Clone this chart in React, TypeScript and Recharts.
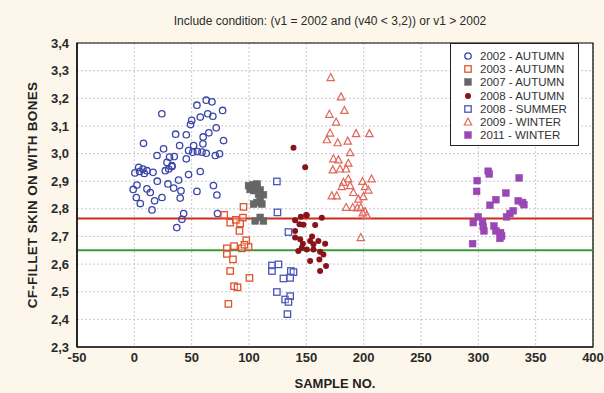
import React from 'react';
import {
  ScatterChart, Scatter, XAxis, YAxis, CartesianGrid, ReferenceLine, ReferenceArea, Label,
} from 'recharts';

const titleText = 'Include condition: (v1 = 2002 and (v40 < 3,2)) or v1 > 2002';
const xTicks = [-50, 0, 50, 100, 150, 200, 250, 300, 350, 400];
const yTicks = [2.3, 2.4, 2.5, 2.6, 2.7, 2.8, 2.9, 3.0, 3.1, 3.2, 3.3, 3.4];
const redLineValue = 2.765;
const greenLineValue = 2.65;

const autumn2002: [number, number][] = [
  [24, 3.144], [54.6, 3.175], [62.7, 3.193], [67.7, 3.187], [77, 3.156], [50, 3.12], [49, 3.105],
  [57.5, 3.132], [64, 3.144], [68.5, 3.135], [71.4, 3.093], [65, 3.075], [45.3, 3.068], [8, 3.037],
  [77.8, 3.047], [39.5, 3.029], [51.7, 3.029], [59.8, 3.035], [47.3, 3.011], [51, 3.005], [55, 3.007],
  [59, 3.005], [62.7, 3.001], [70.6, 2.993], [74.3, 2.999], [25.5, 3.017], [19.8, 2.993], [30.7, 2.987],
  [34.8, 2.989], [45.3, 2.981], [28.5, 2.968], [32.8, 2.956], [3.8, 2.95], [7.5, 2.944], [4.6, 2.935],
  [11, 2.938], [8.7, 2.928], [16.3, 2.932], [27, 2.938], [30, 2.944], [32.8, 2.953], [57.5, 2.935],
  [47.3, 2.924], [38.6, 2.904], [2.3, 2.886], [11, 2.872], [13.9, 2.859], [29.3, 2.89], [34.3, 2.875],
  [40.7, 2.865], [54.6, 2.863], [69, 2.884], [72, 2.85], [1.7, 2.841], [5.2, 2.819], [17.7, 2.829],
  [24.1, 2.841], [40, 2.839], [15.4, 2.796], [43, 2.783], [41.5, 2.762], [37, 2.732], [72.5, 2.783],
  [0.5, 2.93], [-1, 2.87], [20, 2.9], [36, 3.07], [60, 3.06],
];
const autumn2003: [number, number][] = [
  [95.2, 2.807], [78.4, 2.778], [83.6, 2.75], [94.7, 2.768], [92.3, 2.747], [91.7, 2.72], [97.6, 2.686],
  [87, 2.665], [80.7, 2.657], [93.8, 2.657], [99.6, 2.662], [80.7, 2.637], [86, 2.617], [83.6, 2.575],
  [100.4, 2.55], [87, 2.52], [90, 2.516], [82, 2.456], [88.5, 2.76], [96, 2.67],
];
const autumn2007: [number, number][] = [
  [99.6, 2.884], [103.4, 2.887], [106.9, 2.88], [104, 2.866], [109.8, 2.868], [108.3, 2.853],
  [112.6, 2.851], [109.8, 2.835], [106.9, 2.823], [111.2, 2.817], [104, 2.817], [109.8, 2.769],
  [112.6, 2.756], [105.4, 2.756], [101, 2.87], [107, 2.89],
];
const autumn2008: [number, number][] = [
  [138.8, 3.021], [149, 2.95], [145.2, 2.771], [150.4, 2.777], [163.5, 2.768], [140.2, 2.759],
  [144, 2.744], [147.5, 2.742], [157.7, 2.741], [140.2, 2.72], [140.2, 2.696], [144.6, 2.69],
  [147, 2.674], [153.3, 2.684], [156.2, 2.672], [160.5, 2.684], [166.4, 2.674], [146, 2.659],
  [150.4, 2.653], [156.2, 2.653], [162, 2.645], [164.9, 2.635], [153.3, 2.611], [161.4, 2.617],
  [162, 2.575], [167.2, 2.593], [143, 2.647], [149.8, 2.778], [155, 2.7],
];
const summer2008: [number, number][] = [
  [124.3, 2.899], [124.8, 2.787], [134.4, 2.716], [120, 2.595], [125.7, 2.599], [120, 2.575],
  [136.5, 2.575], [138.8, 2.571], [130, 2.548], [135.9, 2.55], [124.3, 2.499], [131.5, 2.472],
  [135.9, 2.484], [134.4, 2.463], [133.5, 2.419],
];
const winter2009: [number, number][] = [
  [171.3, 3.275], [180.3, 3.205], [183.2, 3.156], [170.1, 3.142], [176, 3.114], [170.7, 3.074],
  [167.9, 3.05], [193.4, 3.072], [205, 3.072], [177.4, 3.039], [186.1, 3.045], [188.2, 3.003],
  [173.6, 2.981], [178, 2.977], [186.6, 2.965], [179.4, 2.944], [173.1, 2.941], [184.7, 2.944],
  [186.6, 2.908], [182.3, 2.896], [180.9, 2.88], [188.2, 2.884], [199, 2.899], [206.9, 2.908],
  [201.2, 2.88], [204.1, 2.868], [172.2, 2.847], [176.5, 2.847], [191, 2.859], [199.7, 2.844],
  [195.4, 2.835], [190.5, 2.805], [194.5, 2.803], [197.5, 2.805], [201.2, 2.79], [202.7, 2.777],
  [199.2, 2.785], [197.5, 2.696], [184.7, 2.805],
];
const winter2011: [number, number][] = [
  [308.6, 2.936], [309.5, 2.926], [335.6, 2.912], [299, 2.902], [298.5, 2.863], [324, 2.857],
  [315.3, 2.833], [310.1, 2.813], [334.8, 2.829], [338.6, 2.823], [339.7, 2.815], [330.4, 2.793],
  [327.5, 2.783], [324.6, 2.771], [299.9, 2.771], [295.6, 2.75], [303.7, 2.754], [304.3, 2.735],
  [304.9, 2.72], [313.6, 2.738], [315.3, 2.72], [319.4, 2.714], [320.3, 2.702], [318.8, 2.693],
  [295, 2.674],
];

type Kind = 'circle' | 'square' | 'filledSquare' | 'dot' | 'triangle';

const seriesList: { name: string; data: [number, number][]; kind: Kind; color: string }[] = [
  { name: '2002 - AUTUMN', data: autumn2002, kind: 'circle', color: '#3a46a8' },
  { name: '2003 - AUTUMN', data: autumn2003, kind: 'square', color: '#e0532c' },
  { name: '2007 - AUTUMN', data: autumn2007, kind: 'filledSquare', color: '#666666' },
  { name: '2008 - AUTUMN', data: autumn2008, kind: 'dot', color: '#86141a' },
  { name: '2008 - SUMMER', data: summer2008, kind: 'square', color: '#4a54bc' },
  { name: '2009 - WINTER', data: winter2009, kind: 'triangle', color: '#e0675a' },
  { name: '2011 - WINTER', data: winter2011, kind: 'filledSquare', color: '#9a46b4' },
];

function Marker({ kind, color, cx, cy }: { kind: Kind; color: string; cx: number; cy: number }) {
  if (kind === 'circle') {
    return <circle cx={cx} cy={cy} r={3.2} fill="none" stroke={color} strokeWidth={1.3} />;
  }
  if (kind === 'square') {
    return <rect x={cx - 3.2} y={cy - 3.2} width={6.4} height={6.4} fill="#fff" fillOpacity={0.3} stroke={color} strokeWidth={1.3} />;
  }
  if (kind === 'filledSquare') {
    return <rect x={cx - 3.4} y={cy - 3.4} width={6.8} height={6.8} fill={color} stroke={color} strokeWidth={0.5} />;
  }
  if (kind === 'dot') {
    return <circle cx={cx} cy={cy} r={3} fill={color} />;
  }
  return (
    <polygon
      points={`${cx},${cy - 4} ${cx - 3.7},${cy + 3} ${cx + 3.7},${cy + 3}`}
      fill="#fff"
      fillOpacity={0.3}
      stroke={color}
      strokeWidth={1.2}
    />
  );
}

const fmt = (v: number, digits: number) => v.toFixed(digits).replace('.', ',');

const fontFamily = '"Liberation Sans", Arial, sans-serif';
const tickStyle = { fill: '#2a2a2a', fontSize: 13, fontWeight: 'bold', fontFamily };

export default function App() {
  return (
    <div style={{ position: 'absolute', left: 0, top: 0, width: 604, height: 393, background: '#fcf7ea', fontFamily }}>
      <div style={{ position: 'absolute', top: 14, left: 0, width: 660, textAlign: 'center', fontSize: 12, color: '#2a2a2a' }}>
        {titleText}
      </div>
      <ScatterChart width={604} height={393} margin={{ top: 43, right: 11, bottom: 0, left: 0 }}>
        <CartesianGrid fill="#ffffff" stroke="#c8c8c8" strokeDasharray="2 2" />
        <XAxis
          type="number"
          dataKey="x"
          domain={[-50, 400]}
          ticks={xTicks}
          allowDataOverflow
          height={46}
          tickLine={false}
          tickMargin={0}
          axisLine={{ stroke: '#000', strokeWidth: 1.2 }}
          tick={tickStyle}
          tickFormatter={(v: number) => String(v)}
        >
          <Label value="SAMPLE NO." position="insideBottom" offset={5} style={{ fill: '#222', fontSize: 13, fontWeight: 'bold', fontFamily }} />
        </XAxis>
        <YAxis
          type="number"
          dataKey="y"
          domain={[2.3, 3.4]}
          ticks={yTicks}
          allowDataOverflow
          width={77}
          tickLine={false}
          axisLine={{ stroke: '#000', strokeWidth: 1.2 }}
          tick={tickStyle}
          tickFormatter={(v: number) => fmt(v, 1)}
        >
          <Label
            value="CF-FILLET SKIN ON WITH BONES"
            angle={-90}
            position="insideLeft"
            offset={32}
            style={{ textAnchor: 'middle', fill: '#222', fontSize: 13.5, fontWeight: 'bold', fontFamily, letterSpacing: 0.3 }}
          />
        </YAxis>
        <ReferenceArea x1={-50} x2={400} y1={2.3} y2={3.4} fill="none" stroke="#000" strokeWidth={1.2} />
        <ReferenceLine y={redLineValue} stroke="#cf2a1c" strokeWidth={2} />
        <ReferenceLine y={greenLineValue} stroke="#3f9a3a" strokeWidth={2} />
        {seriesList.map((s) => (
          <Scatter
            key={s.name}
            name={s.name}
            data={s.data.map(([x, y]) => ({ x, y }))}
            isAnimationActive={false}
            shape={(p: any) => <Marker kind={s.kind} color={s.color} cx={p.cx} cy={p.cy} />}
          />
        ))}
      </ScatterChart>
      <div
        style={{
          position: 'absolute', left: 450, top: 43, width: 129, height: 103, boxSizing: 'border-box',
          border: '1.5px solid #222', background: '#fff', padding: '5px 0 0 10px',
        }}
      >
        {seriesList.map((s) => (
          <div key={s.name} style={{ display: 'flex', alignItems: 'center', height: 13.3, fontSize: 11.5, color: '#333' }}>
            <svg width={14} height={12} style={{ marginRight: 5 }}>
              <Marker kind={s.kind} color={s.color} cx={7} cy={6} />
            </svg>
            <span>{s.name}</span>
          </div>
        ))}
      </div>
    </div>
  );
}
